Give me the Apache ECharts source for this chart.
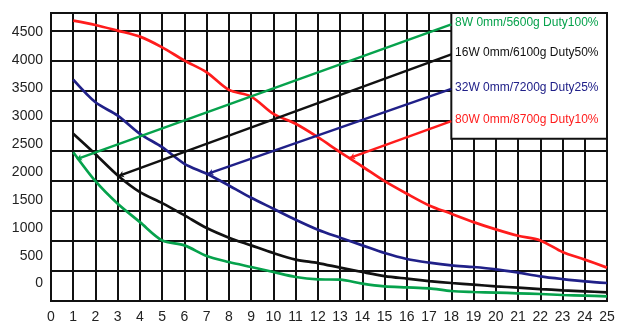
<!DOCTYPE html>
<html>
<head>
<meta charset="utf-8">
<script src="https://cdn.jsdelivr.net/npm/echarts@6/dist/echarts.min.js"></script>
<style>
  html, body { margin: 0; padding: 0; background: #fff; }
  #chart { width: 626px; height: 332px; }
</style>
</head>
<body>
<div id="chart"></div>
<script>
// x positions (0..25 axis, curves start at 1)
var xValues = [1,2,3,4,5,6,7,8,9,10,11,12,13,14,15,16,17,18,19,20,21,22,23,24,25];

// on the grid-line scale (500 per row)
var green8W  = [2475,1993,1618,1312,1008,925,748,648,565,482,399,360,355,289,244,228,211,166,150,140,128,116,100,90,78];
var black16W = [2780,2440,2088,1811,1628,1424,1213,1053,925,797,688,631,555,482,415,372,332,299,272,244,223,199,178,161,145];
var blue32W  = [3682,3305,3084,2780,2558,2282,2116,1922,1717,1535,1352,1186,1053,925,797,698,638,593,565,527,472,410,365,327,299];
var red80W   = [4663,4591,4496,4397,4219,3998,3804,3511,3400,3113,2947,2724,2475,2237,1993,1784,1590,1452,1312,1191,1086,1008,814,688,555];

var seriesNames = ['8W 0mm/5600g Duty100%', '16W 0mm/6100g Duty50%', '32W 0mm/7200g Duty25%', '80W 0mm/8700g Duty10%'];
var seriesColors = ['#06a24c', '#111111', '#202088', '#ff1c1c'];
var seriesValues = [green8W, black16W, blue32W, red80W];

// callout lines: point on the curve -> edge of the name box
var calloutStart = [[1.16, 2360], [3.05, 2080], [7.07, 2117], [13.44, 2380]];
var calloutEnd   = [[18, 4599], [18, 4100], [18, 3530], [18, 2992]];

// name box (x from, y from) -> (x to, y to)
var boxFrom = [18, 2700];
var boxTo = [25, 4790];

// y tick labels (drawn on their own, slightly compressed scale as in the picture)
var yTickLabels = [0,500,1000,1500,2000,2500,3000,3500,4000,4500];

var chart = echarts.init(document.getElementById('chart'));

var series = seriesValues.map(function (vals, i) {
    var s = {
        name: seriesNames[i],
        type: 'line',
        smooth: 0.3,
        symbol: 'none',
        yAxisIndex: 0,
        data: xValues.map(function (x, k) { return [x, vals[k]]; }),
        lineStyle: { color: seriesColors[i], width: 2.7 },
        itemStyle: { color: seriesColors[i] },
        markLine: {
            silent: true,
            animation: false,
            symbol: ['arrow', 'none'],
            symbolSize: 5,
            lineStyle: { color: seriesColors[i], width: 2.4, type: 'solid' },
            label: {
                show: true,
                position: 'end',
                distance: 4,
                color: seriesColors[i],
                fontSize: 12,
                fontFamily: 'Liberation Sans, Arial, sans-serif',
                formatter: function (p) { return p.seriesName; }
            },
            data: [[
                { coord: calloutStart[i] },
                { coord: calloutEnd[i] }
            ]]
        }
    };
    if (i === 0) {
        s.markArea = {
            silent: true,
            animation: false,
            itemStyle: { color: '#ffffff', borderColor: '#111', borderWidth: 2 },
            data: [[{ coord: boxFrom }, { coord: boxTo }]]
        };
    }
    return s;
});

var option = {
    animation: false,
    backgroundColor: '#ffffff',
    grid: {
        left: 51, right: 19, top: 13, bottom: 31,
        show: true, borderColor: '#111', borderWidth: 2,
        outerBoundsMode: 'none'
    },
    xAxis: {
        type: 'value',
        min: 0, max: 25, interval: 1,
        axisLine: { show: true, lineStyle: { color: '#111', width: 2 } },
        axisTick: { show: false },
        splitLine: { show: true, lineStyle: { color: '#111', width: 2 } },
        axisLabel: { color: '#222', fontSize: 14, margin: 9, fontFamily: 'Liberation Sans, Arial, sans-serif' }
    },
    yAxis: [
        {
            // grid lines
            type: 'value',
            min: 0, max: 4790, interval: 500,
            axisLine: { show: true, lineStyle: { color: '#111', width: 2 } },
            axisTick: { show: false },
            axisLabel: { show: false },
            splitLine: { show: true, lineStyle: { color: '#111', width: 2 } }
        },
        {
            // labels only
            type: 'value',
            position: 'left',
            min: -311, max: 4839,
            axisLine: { show: false },
            axisTick: { show: false },
            splitLine: { show: false },
            axisLabel: {
                color: '#222', fontSize: 14, margin: 8,
                fontFamily: 'Liberation Sans, Arial, sans-serif',
                customValues: yTickLabels,
                formatter: function (v) { return String(v); }
            }
        }
    ],
    series: series
};

chart.setOption(option);
</script>
</body>
</html>
